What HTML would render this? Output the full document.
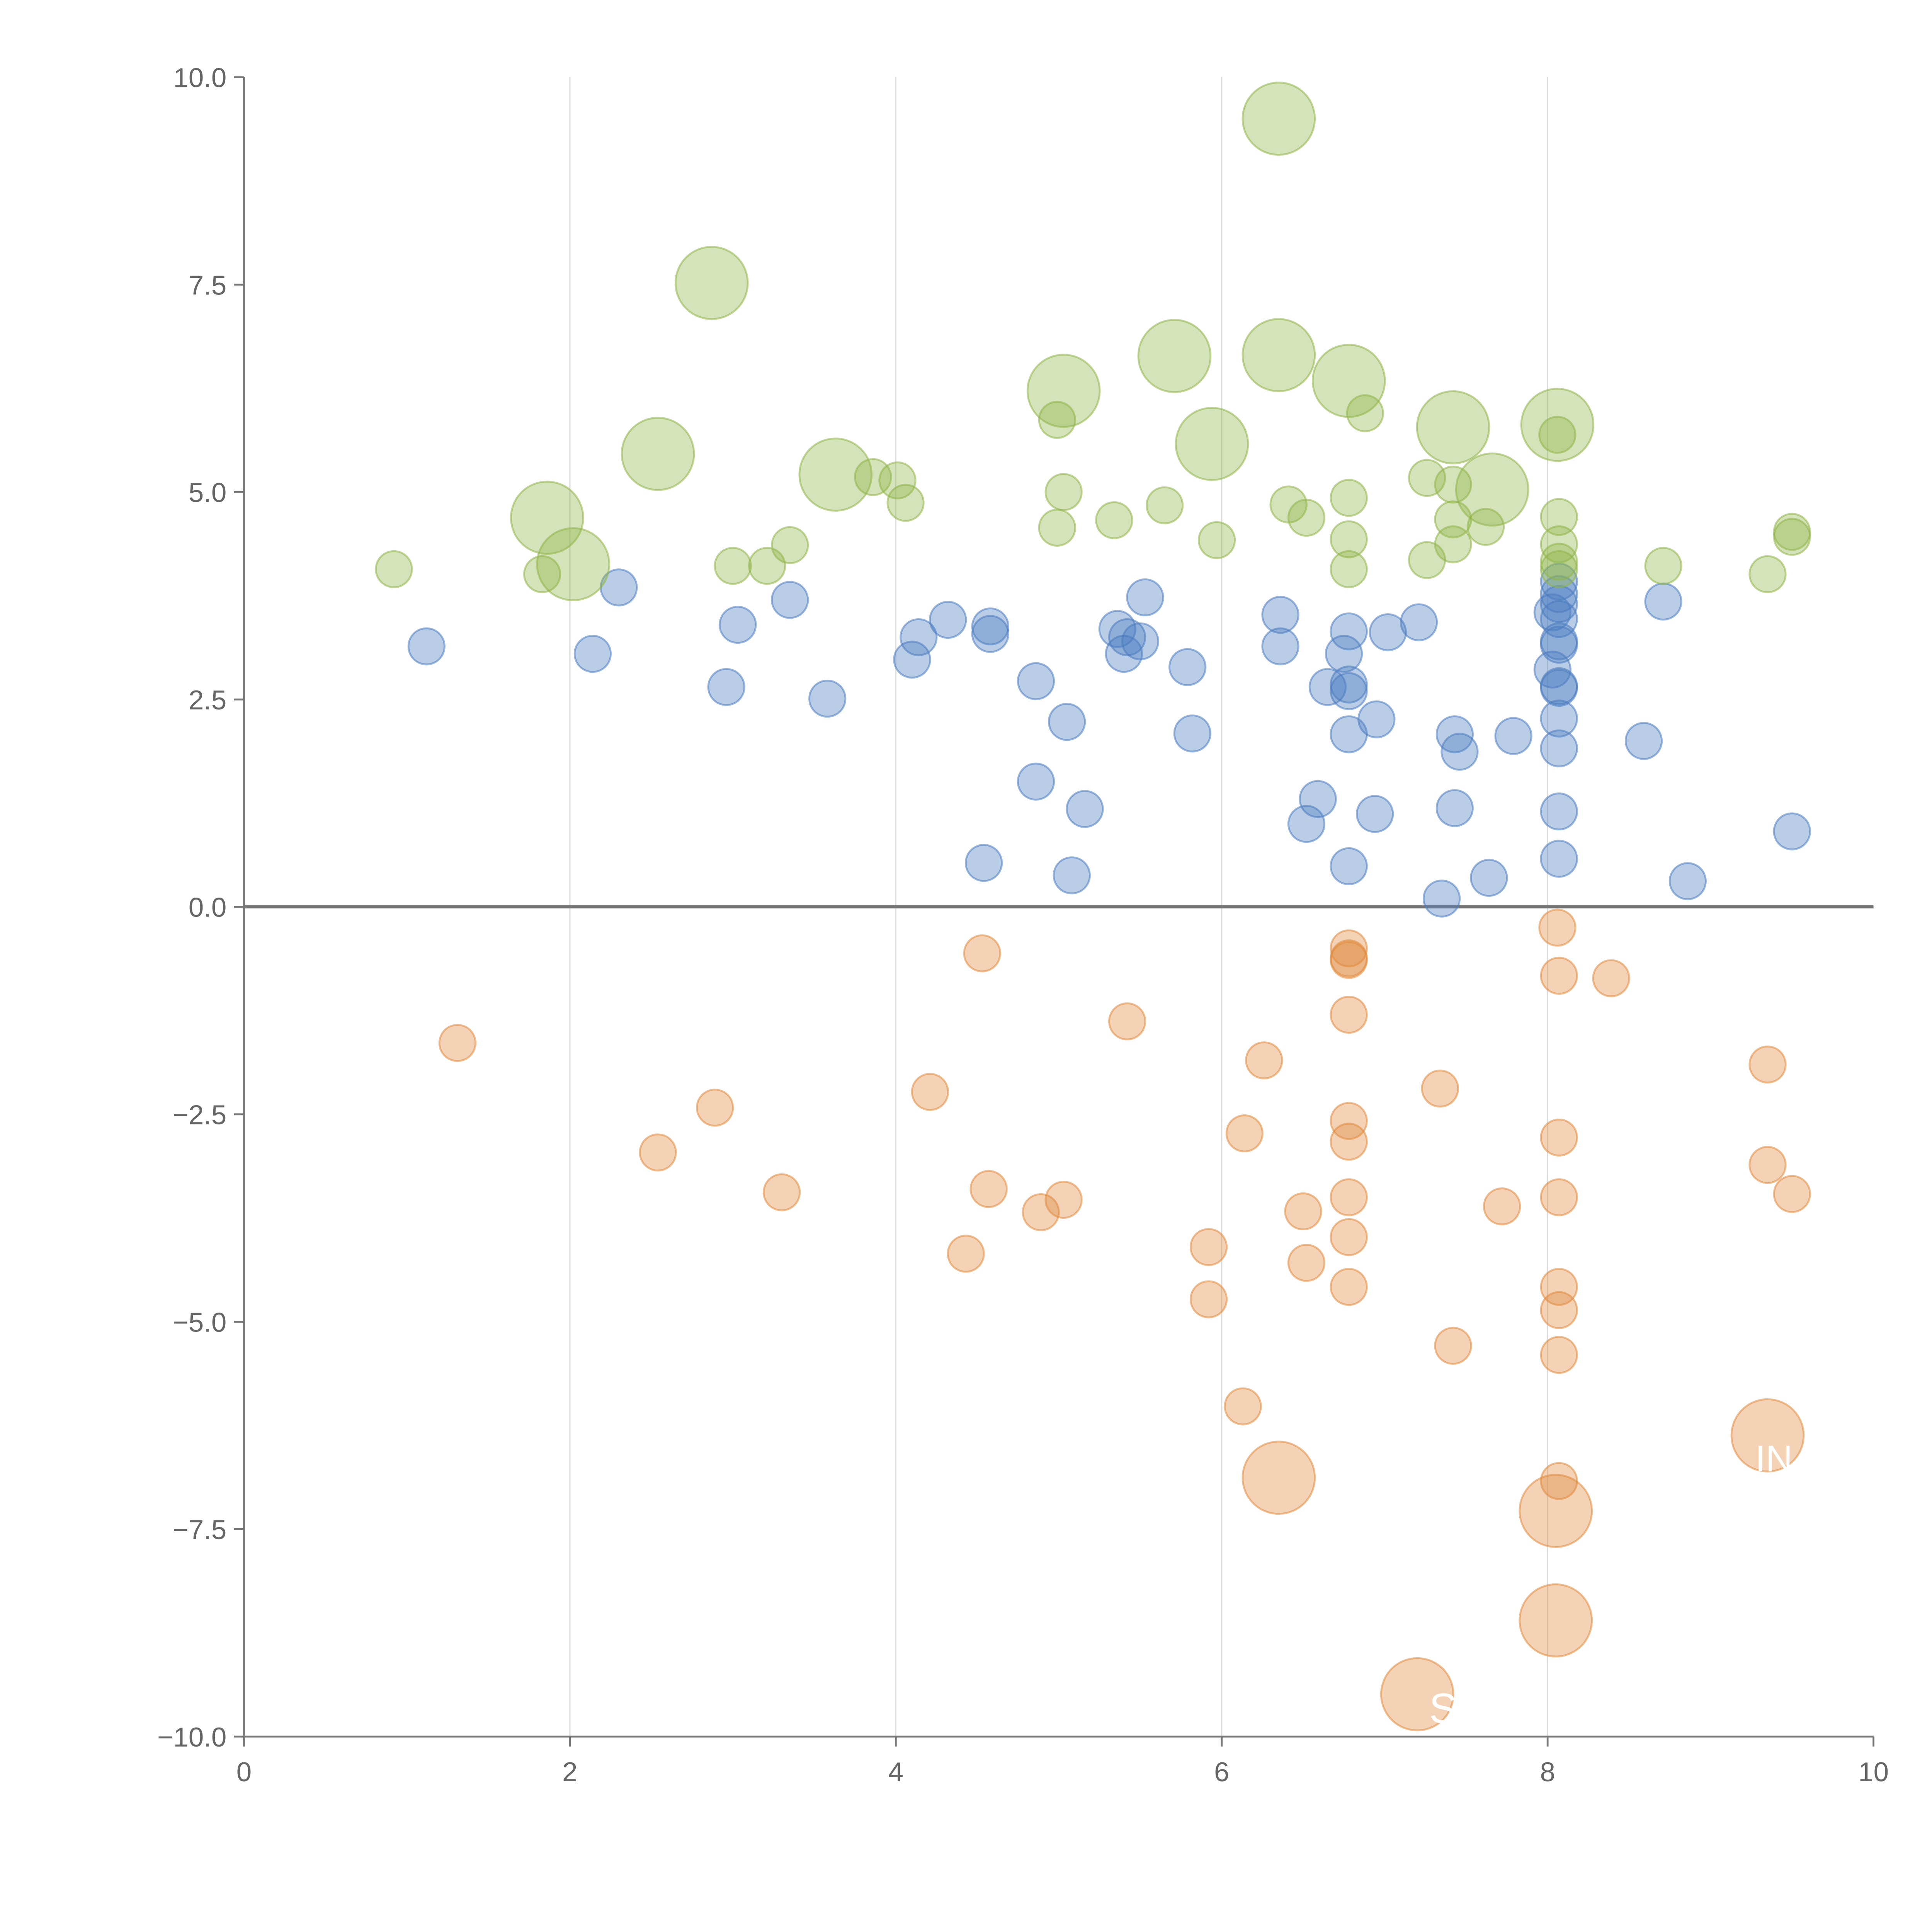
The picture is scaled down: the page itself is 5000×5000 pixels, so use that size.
<!DOCTYPE html>
<html><head><meta charset="utf-8"><style>
html,body{margin:0;padding:0;background:#fff;}
svg{display:block;}
text{font-family:"Liberation Sans",sans-serif;}
</style></head><body>
<svg id="chart" width="5000" height="5000" viewBox="0 0 1552 1552" xmlns="http://www.w3.org/2000/svg">
<g id="grid"></g>
<g id="axes"></g>
<g id="marks"></g>
<text x="1410" y="1182" fill="#fff" font-size="30">IN</text>
<text x="1148" y="1384" fill="#fff" font-size="34">S</text>
</svg>
<script>
const xTicks=[0,2,4,6,8,10];
const yTicks=[10,7.5,5,2.5,0,-2.5,-5,-7.5,-10];
const yTickLabels=["10.0","7.5","5.0","2.5","0.0","\u22122.5","\u22125.0","\u22127.5","\u221210.0"];
// [x, y, large(1)/small(0)]
const greenPts=[[6.35,9.5,1],[2.87,7.52,1],[6.35,6.65,1],[5.71,6.64,1],[6.78,6.34,1],[5.03,6.22,1],[8.06,5.81,1],[7.42,5.78,1],[5.94,5.58,1],[2.54,5.46,1],[3.63,5.21,1],[7.66,5.03,1],[1.86,4.69,1],[2.02,4.13,1],
[0.92,4.07,0],[1.83,4.01,0],[3.0,4.11,0],[3.21,4.11,0],[3.35,4.36,0],[3.86,5.18,0],[4.01,5.14,0],[4.06,4.87,0],[4.99,5.87,0],[5.03,5.0,0],[4.99,4.57,0],[5.34,4.66,0],[5.65,4.84,0],[5.97,4.42,0],[6.41,4.85,0],[6.52,4.69,0],[6.78,4.93,0],[6.78,4.43,0],[6.78,4.07,0],[6.88,5.95,0],[7.26,5.17,0],[7.42,5.09,0],[7.42,4.67,0],[7.42,4.37,0],[7.26,4.18,0],[7.62,4.58,0],[8.06,5.69,0],[8.07,4.7,0],[8.07,4.37,0],[8.07,4.16,0],[8.07,4.07,0],[8.71,4.11,0],[9.35,4.01,0],[9.5,4.52,0],[9.5,4.46,0]];
const bluePts=[[1.12,3.14,0],[2.14,3.05,0],[2.30,3.85,0],[2.96,2.65,0],[3.03,3.4,0],[3.35,3.7,0],[3.58,2.51,0],[4.1,2.98,0],[4.14,3.25,0],[4.32,3.46,0],[4.58,3.38,0],[4.58,3.29,0],[4.54,0.53,0],[4.86,2.72,0],[4.86,1.51,0],[5.05,2.23,0],[5.16,1.18,0],[5.08,0.38,0],[5.36,3.35,0],[5.4,3.05,0],[5.42,3.25,0],[5.5,3.2,0],[5.53,3.73,0],[5.79,2.89,0],[5.82,2.09,0],[6.36,3.52,0],[6.36,3.14,0],[6.65,2.65,0],[6.75,3.05,0],[6.78,3.32,0],[6.78,2.68,0],[6.78,2.6,0],[6.78,2.08,0],[6.59,1.3,0],[6.52,1.0,0],[6.78,0.49,0],[6.94,1.12,0],[6.95,2.26,0],[7.02,3.31,0],[7.21,3.43,0],[7.43,2.08,0],[7.46,1.87,0],[7.43,1.19,0],[7.35,0.1,0],[7.64,0.35,0],[7.79,2.06,0],[8.03,2.86,0],[8.07,3.92,0],[8.07,3.77,0],[8.07,3.65,0],[8.03,3.55,0],[8.07,3.47,0],[8.07,3.2,0],[8.07,3.16,0],[8.07,2.66,0],[8.07,2.64,0],[8.07,2.27,0],[8.07,1.91,0],[8.07,1.15,0],[8.07,0.58,0],[8.59,2.0,0],[8.71,3.68,0],[8.86,0.31,0],[9.5,0.91,0]];
const orangePts=[[1.31,-1.64,0],[2.54,-2.96,0],[2.89,-2.42,0],[3.3,-3.44,0],[4.21,-2.23,0],[4.43,-4.18,0],[4.53,-0.56,0],[4.57,-3.4,0],[4.89,-3.68,0],[5.03,-3.53,0],[5.42,-1.38,0],[5.92,-4.1,0],[5.92,-4.73,0],[6.14,-2.73,0],[6.13,-6.02,0],[6.26,-1.85,0],[6.5,-3.67,0],[6.52,-4.29,0],[6.35,-6.88,1],[6.78,-0.5,0],[6.78,-0.62,0],[6.78,-0.64,0],[6.78,-1.3,0],[6.78,-2.58,0],[6.78,-2.83,0],[6.78,-3.5,0],[6.78,-3.98,0],[6.78,-4.58,0],[7.2,-9.49,1],[7.34,-2.19,0],[7.42,-5.29,0],[7.72,-3.61,0],[8.06,-0.25,0],[8.07,-0.83,0],[8.07,-2.78,0],[8.07,-3.5,0],[8.07,-4.58,0],[8.07,-4.86,0],[8.07,-5.4,0],[8.07,-6.92,0],[8.05,-7.28,1],[8.05,-8.6,1],[8.39,-0.86,0],[9.35,-1.9,0],[9.35,-3.11,0],[9.5,-3.46,0],[9.35,-6.37,1]];

const NS="http://www.w3.org/2000/svg";
const X0=196,X1=1505,Y0=1395,Y1=62;
function sx(v){return X0+(v-0)/(10-0)*(X1-X0);}
function sy(v){return Y0-(v+10)/20*(Y0-Y1);}
function mk(tag,attrs,parent){const e=document.createElementNS(NS,tag);for(const k in attrs)e.setAttribute(k,attrs[k]);parent.appendChild(e);return e;}
const grid=document.getElementById('grid'),axes=document.getElementById('axes'),marks=document.getElementById('marks');
xTicks.forEach(t=>{
  if(t>0&&t<10){const l=mk('line',{x1:sx(t),x2:sx(t),y1:Y1,y2:Y0,stroke:'#dcdcdc','stroke-width':1},grid);
  
  }
  const tk=mk('line',{x1:sx(t),x2:sx(t),y1:Y0,y2:Y0+8,stroke:'#777','stroke-width':1.5},axes);
  
  
  const tx=mk('text',{x:sx(t),y:Y0+36,'text-anchor':'middle','font-size':22,fill:'#666'},axes);
  tx.textContent=t;
  
  
});
yTicks.forEach((t,i)=>{
  const tk=mk('line',{x1:X0-8,x2:X0,y1:sy(t),y2:sy(t),stroke:'#777','stroke-width':1.5},axes);
  
  
  const tx=mk('text',{x:X0-14,y:sy(t)+8,'text-anchor':'end','font-size':22,fill:'#666'},axes);
  tx.textContent=yTickLabels[i];
  
  
});
const ya=mk('line',{x1:X0,x2:X0,y1:Y1,y2:Y0,stroke:'#777','stroke-width':1.5},axes);


const xa=mk('line',{x1:X0,x2:X1,y1:Y0,y2:Y0,stroke:'#777','stroke-width':1.5},axes);


const zl=mk('line',{x1:X0,x2:X1,y1:sy(0),y2:sy(0),stroke:'#777','stroke-width':2.5},axes);


function draw(pts,col,name){
  pts.forEach(p=>{
    const c=mk('circle',{cx:sx(p[0]),cy:sy(p[1]),r:p[2]?29:14.5,fill:col,'fill-opacity':0.38,stroke:col,'stroke-opacity':0.55,'stroke-width':1.5},marks);
    
    
  });
}
draw(bluePts,'#4a7cc0','bubble-blue');
draw(greenPts,'#8fb548','bubble-green');
draw(orangePts,'#e08a3c','bubble-orange');
</script>
</body></html>
